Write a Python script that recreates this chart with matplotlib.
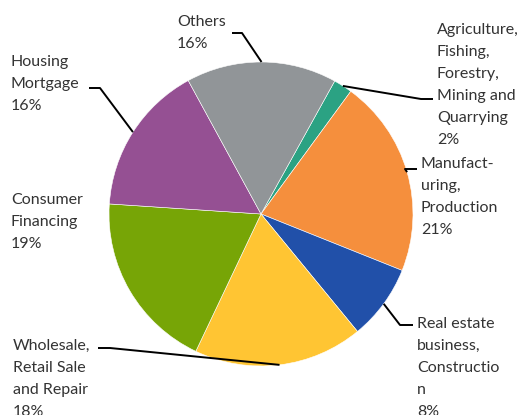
import numpy as np
import matplotlib.pyplot as plt

# data (clockwise from the small teal slice)
labels = ['Agriculture,\nFishing,\nForestry,\nMining and\nQuarrying',
          'Manufact-\nuring,\nProduction',
          'Real estate\nbusiness,\nConstructio\nn',
          'Wholesale,\nRetail Sale\nand Repair',
          'Consumer\nFinancing',
          'Housing\nMortgage',
          'Others']
shares = [2, 21, 8, 18, 19, 16, 16]
colors = ['#2ba283', '#f58f3d', '#2150a9', '#ffc533', '#77a506', '#955093', '#919598']

# label layout in pixels (text left, text top, elbow x, elbow y, line end x)
W, H = 528, 415
cx, cy, R = 261, 214, 152
start = 61
text_pos = [(437, 23), (421, 157), (417, 317), (13, 339), (11, 193), (11, 55), (177, 15)]
elbows = [(421, 99, 433), (405, 169, 417), (400, 325, 413), (110, 348, 98),
          None, (100, 88, 89), (242, 33, 232)]

plt.rcParams['font.family'] = ['Lato', 'DejaVu Sans']
fig = plt.figure(figsize=(W / 100, H / 100), dpi=100)
ax = fig.add_axes([0, 0, 1, 1])

ax.pie(shares, colors=colors, startangle=start, counterclock=False,
       center=(cx, H - cy), radius=R, frame=True,
       wedgeprops=dict(linewidth=0.4, edgecolor='white'))
ax.set_xlim(0, W)
ax.set_ylim(0, H)
ax.set_aspect('equal')
ax.axis('off')

total = sum(shares)
ang = start
for lab, val, tp, el in zip(labels, shares, text_pos, elbows):
    span = 360 * val / total
    mid = np.deg2rad(ang - span / 2)
    ang -= span
    ax.text(tp[0], H - tp[1], f'{lab}\n{val}%', ha='left', va='top',
            fontsize=11.5, color='#333333', linespacing=1.72)
    if el is None:
        continue
    px = cx + R * np.cos(mid)
    py = (H - cy) + R * np.sin(mid)
    ax.plot([px, el[0], el[2]], [py, H - el[1], H - el[1]],
            color='black', lw=1.4, solid_capstyle='butt')

fig.savefig('out.png', dpi=100)
